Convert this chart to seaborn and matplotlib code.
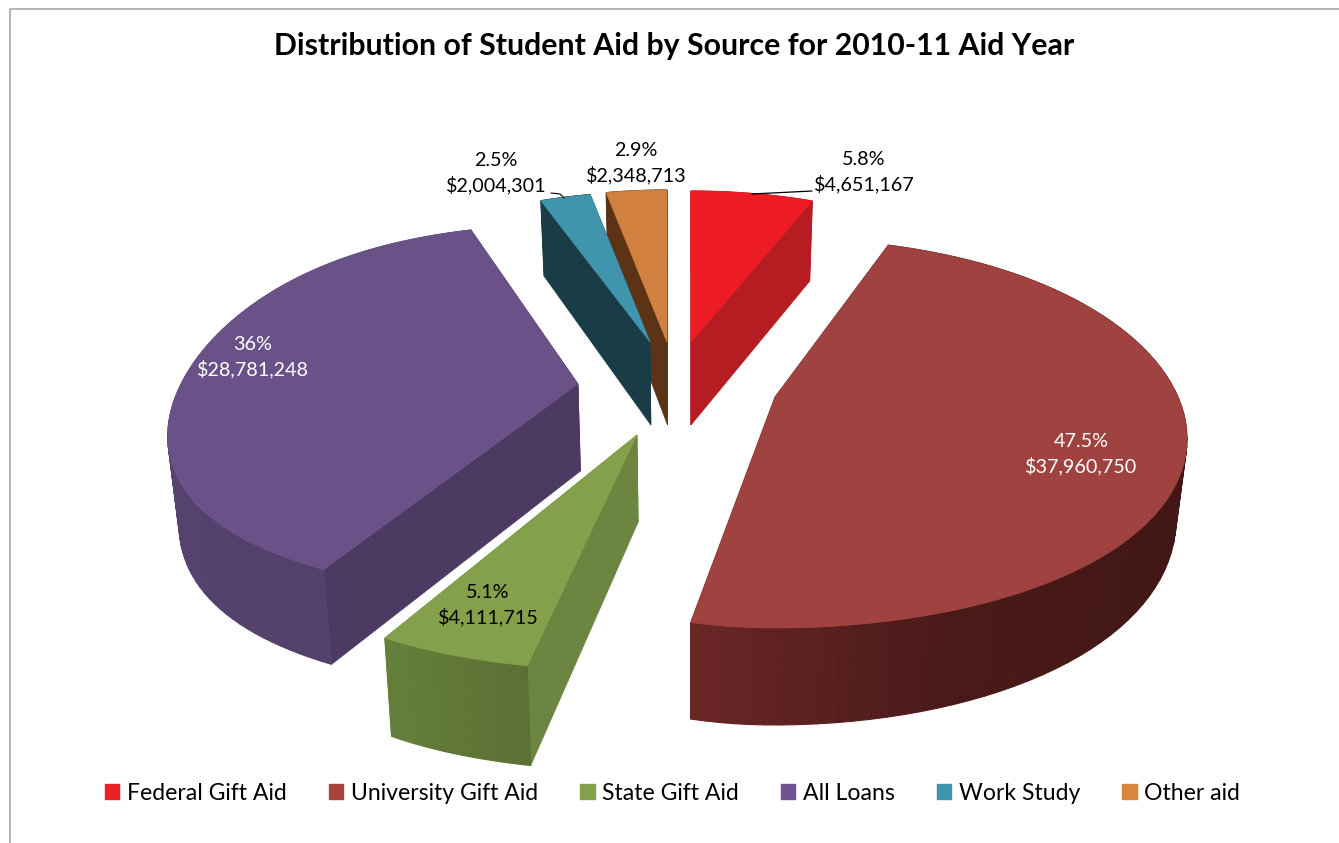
import numpy as np
import matplotlib
matplotlib.use("Agg")
import matplotlib.pyplot as plt
from matplotlib.patches import Patch, Polygon
import seaborn as sns

# Student aid for the 2010-11 aid year
sources = ["Federal Gift Aid", "University Gift Aid", "State Gift Aid",
           "All Loans", "Work Study", "Other aid"]
amounts = [4651167, 37960750, 4111715, 28781248, 2004301, 2348713]
percent_labels = ["5.8%", "47.5%", "5.1%", "36%", "2.5%", "2.9%"]
chart_title = "Distribution of Student Aid by Source for 2010-11 Aid Year"

sns.set_theme(style="white")
plt.rcParams["font.family"] = ["Lato", "DejaVu Sans"]

top_colors = sns.color_palette(["#ED1C24", "#A04240", "#85A04A",
                                "#6A5289", "#4095AC", "#D1803F"])
legend_colors = sns.color_palette(["#ED2024", "#A5433F", "#85A24B",
                                   "#6F5490", "#4095AD", "#D98540"])
radial_colors = ["#B51D22", "#6B2727", "#6C8540", "#4D3A63", "#1A3C47", "#5C3314"]
rim_ramps = [("#B51D22", "#B51D22"),
             ("#421715", "#421715", "#421715", "#421715", "#4A1A18", "#6B2727"),
             ("#5C7034", "#64803B"),
             ("#53406B", "#5E4876"),
             ("#1A3C47", "#1A3C47"),
             ("#5C3314", "#5C3314")]

# Tilted, exploded layout of each wedge: apex, semi-axes for the back, middle
# and front of the disc, narrowing on the left side, and extrusion depth.
layout = [
    dict(apex=(691, 342), rx=(339, 339, 339), ry=(151, 151, 151), left=1.0, depth=(83, 3)),
    dict(apex=(775, 397), rx=(310, 403, 487), ry=(159, 205, 231), left=0.83, depth=(76, 21)),
    dict(apex=(637, 435), rx=(530, 395, 530), ry=(236, 236, 236), left=1.0, depth=(87, 13)),
    dict(apex=(578, 384), rx=(315, 397, 519), ry=(160, 205, 215), left=1.0, depth=(87, 9)),
    dict(apex=(650, 342), rx=(325, 325, 325), ry=(150, 150, 150), left=1.0, depth=(83, 8)),
    dict(apex=(667, 342), rx=(331, 331, 331), ry=(152, 152, 152), left=1.0, depth=(83, 8)),
]
label_centres = [(864, 172), (1081, 454), (488, 605), (253, 357), (496, 173), (636, 163)]
label_colors = ["black", "white", "black", "white", "black", "black"]
draw_order = [5, 4, 3, 0, 1, 2]
VANISH_X, SHRINK = 690, 0.978


def quad_through(v, back_mid_front):
    back, mid, front = back_mid_front
    return mid + (back - front) / 2 * v + ((back + front) / 2 - mid) * v ** 2


def top_point(spec, theta):
    u, v = np.sin(theta), np.cos(theta)
    x = spec["apex"][0] + quad_through(v, spec["rx"]) * u * np.where(u < 0, spec["left"], 1.0)
    y = spec["apex"][1] - quad_through(v, spec["ry"]) * v
    return x, y


def lower(x, y, depth):
    return VANISH_X + (x - VANISH_X) * SHRINK, y + depth


fig = plt.figure(figsize=(13.39, 8.43), dpi=100, facecolor="white")
ax = fig.add_axes([0, 0, 1, 1])
ax.set_xlim(0, 1339)
ax.set_ylim(843, 0)
ax.axis("off")

# Chart frame, cut off by the right and bottom edges of the figure
ax.plot([9.5, 9.5, 1339], [843, 8.5, 8.5], color="#A8A8A8", lw=1.2, zorder=0)

shares = np.array(amounts, dtype=float) / np.sum(amounts)
edges = np.concatenate([[0.0], np.cumsum(shares)]) * 2 * np.pi

for i in draw_order:
    spec = layout[i]
    d0, d1 = spec["depth"]
    theta = np.linspace(edges[i], edges[i + 1], 80)
    xs, ys = top_point(spec, theta)
    ax_x, ax_y = spec["apex"]
    bx, by = lower(xs, ys, d0 - d1 * np.cos(theta))
    abx, aby = lower(ax_x, ax_y, d0)

    # Flat cut faces on both sides of the wedge
    for j in (0, -1):
        face = [(ax_x, ax_y), (xs[j], ys[j]), (bx[j], by[j]), (abx, aby)]
        ax.add_patch(Polygon(face, closed=True, fc=radial_colors[i], ec=radial_colors[i], lw=0.5))

    # Curved outer wall, shaded along the arc
    ramp = sns.blend_palette(rim_ramps[i], n_colors=len(theta))
    for k in range(len(theta) - 1):
        quad = [(xs[k], ys[k]), (xs[k + 1], ys[k + 1]), (bx[k + 1], by[k + 1]), (bx[k], by[k])]
        ax.add_patch(Polygon(quad, closed=True, fc=ramp[k], ec=ramp[k], lw=0.8))

    # Top surface
    outline = np.column_stack([np.r_[ax_x, xs], np.r_[ax_y, ys]])
    ax.add_patch(Polygon(outline, closed=True, fc=top_colors[i], ec=top_colors[i], lw=0.5))

# Value labels
for i, (cx, cy) in enumerate(label_centres):
    ax.text(cx, cy, f"{percent_labels[i]}\n${amounts[i]:,}", ha="center", va="center",
            fontsize=14.2, color=label_colors[i], linespacing=1.42, zorder=5)

# Leader lines of the two outside labels that need them
ax.plot([752, 812], [194, 191], color="black", lw=0.9, zorder=5)
ax.plot([551, 560, 564], [193, 194, 198], color="black", lw=0.8, zorder=5)

ax.text(674, 46.5, chart_title, ha="center", va="center", fontsize=21.8,
        fontweight="bold", color="black")

handles = [Patch(fc=c, ec=c, label=s) for c, s in zip(legend_colors, sources)]
fig.legend(handles=handles, ncol=6, loc="center", bbox_to_anchor=(672.5 / 1339, 1 - 793.5 / 843),
           frameon=False, fontsize=16.6, handlelength=0.63, handleheight=0.63,
           handletextpad=0.32, columnspacing=1.83, borderpad=0, labelcolor="black")

fig.savefig("out.png", dpi=100, facecolor="white")
